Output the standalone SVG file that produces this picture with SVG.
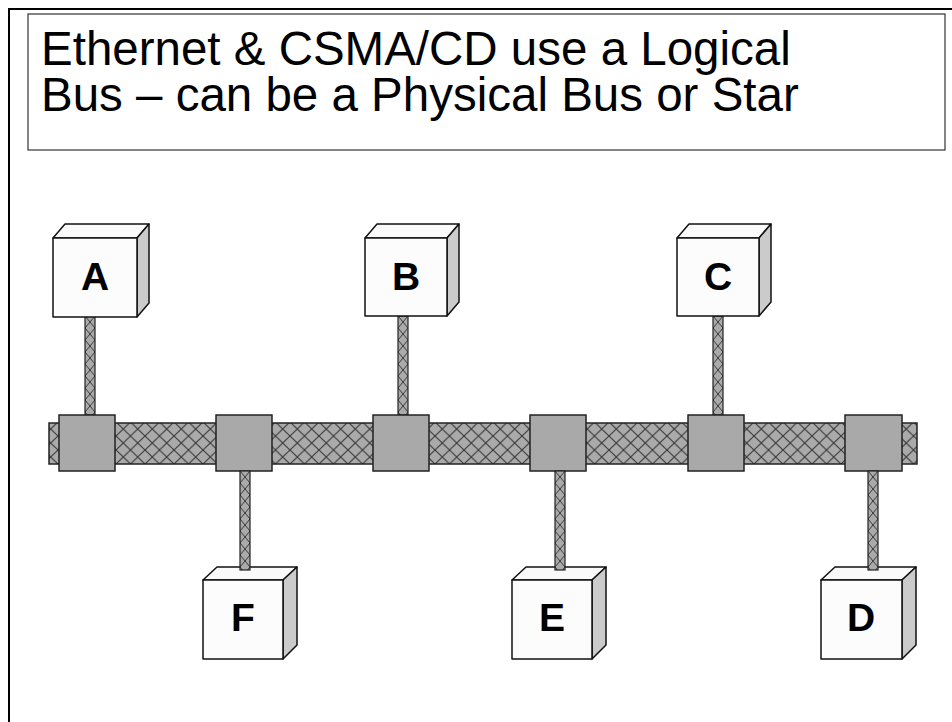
<svg xmlns="http://www.w3.org/2000/svg" width="952" height="722" viewBox="0 0 952 722">
  <style>
    .title { font-family: "Liberation Sans", Arial, sans-serif; font-size: 47.5px; fill: #000; }
    .label { font-family: "Liberation Sans", Arial, sans-serif; font-size: 39px; font-weight: bold; fill: #000; text-anchor: middle; }
    .front { fill: #fcfcfc; stroke: #111; stroke-width: 1.5; stroke-linejoin: round; }
    .top { fill: #fafafa; stroke: #111; stroke-width: 1.5; stroke-linejoin: round; }
    .side { fill: #cbcbcb; stroke: #111; stroke-width: 1.5; stroke-linejoin: round; }
    .tap { fill: #a9a9a9; stroke: #222; stroke-width: 1.5; }
    .bus { fill: url(#mesh); stroke: #222; stroke-width: 1.5; }
    .drop { fill: url(#meshThin); stroke: #222; stroke-width: 1.2; }
  </style>
  <defs>
    <!-- woven cable sheath for the backbone -->
    <pattern id="mesh" patternUnits="userSpaceOnUse" width="14.5" height="14" x="0" y="2">
      <rect width="14.5" height="14" fill="#aaaaaa"/>
      <path d="M0,0 L14.5,14 M14.5,0 L0,14" stroke="#3a3a3a" stroke-width="1.1" fill="none"/>
    </pattern>
    <!-- narrower weave for the drop cables -->
    <pattern id="meshThin" patternUnits="userSpaceOnUse" width="10" height="12">
      <rect width="10" height="12" fill="#aaaaaa"/>
      <path d="M0,0 L10,12 M10,0 L0,12" stroke="#3a3a3a" stroke-width="1" fill="none"/>
    </pattern>
  </defs>

  <rect width="952" height="722" fill="#fff"/>

  <!-- slide frame -->
  <rect x="9" y="9" width="980" height="760" fill="none" stroke="#000" stroke-width="2"/>

  <!-- title -->
  <g id="title">
    <rect x="28" y="14" width="917" height="136" fill="#fff" stroke="#333" stroke-width="1.2"/>
    <text class="title" x="41" y="65">Ethernet &amp; CSMA/CD use a Logical</text>
    <text class="title" x="41" y="111">Bus – can be a Physical Bus or Star</text>
  </g>

  <!-- bus and drop cables -->
  <g id="connectors">
    <rect class="bus" x="49" y="423" width="868" height="41"/>
    <g transform="translate(85,316)"><rect class="drop" x="0" y="0" width="10" height="99"/></g>
    <g transform="translate(398,316)"><rect class="drop" x="0" y="0" width="10" height="99"/></g>
    <g transform="translate(713,316)"><rect class="drop" x="0" y="0" width="10" height="99"/></g>
    <rect class="tap" x="59" y="415" width="56" height="56"/>
    <rect class="tap" x="216" y="415" width="56" height="56"/>
    <rect class="tap" x="373" y="415" width="56" height="56"/>
    <rect class="tap" x="530" y="415" width="56" height="56"/>
    <rect class="tap" x="688" y="415" width="56" height="56"/>
    <rect class="tap" x="845" y="415" width="57" height="56"/>
  </g>

  <!-- stations above the bus -->
  <g id="node-A" transform="translate(53,238)">
    <polygon class="top" points="0,0 12,-14 96,-14 84,0"/>
    <polygon class="side" points="84,0 96,-14 96,65 84,79"/>
    <rect class="front" x="0" y="0" width="84" height="79"/>
    <text class="label" x="42" y="52">A</text>
  </g>
  <g id="node-B" transform="translate(365,238)">
    <polygon class="top" points="0,0 12,-14 94,-14 82,0"/>
    <polygon class="side" points="82,0 94,-14 94,64 82,78"/>
    <rect class="front" x="0" y="0" width="82" height="78"/>
    <text class="label" x="41" y="52">B</text>
  </g>
  <g id="node-C" transform="translate(677,238)">
    <polygon class="top" points="0,0 12,-14 94,-14 82,0"/>
    <polygon class="side" points="82,0 94,-14 94,64 82,78"/>
    <rect class="front" x="0" y="0" width="82" height="78"/>
    <text class="label" x="41" y="52">C</text>
  </g>

  <!-- stations below the bus -->
  <g id="node-F" transform="translate(203,580)">
    <polygon class="top" points="0,0 14,-13 94,-13 80,0"/>
    <polygon class="side" points="80,0 94,-13 94,65 80,79"/>
    <rect class="front" x="0" y="0" width="80" height="79"/>
    <text class="label" x="40" y="51">F</text>
  </g>
  <g id="node-E" transform="translate(512,580)">
    <polygon class="top" points="0,0 14,-13 94,-13 80,0"/>
    <polygon class="side" points="80,0 94,-13 94,65 80,79"/>
    <rect class="front" x="0" y="0" width="80" height="79"/>
    <text class="label" x="40" y="51">E</text>
  </g>
  <g id="node-D" transform="translate(821,580)">
    <polygon class="top" points="0,0 14,-13 95,-13 81,0"/>
    <polygon class="side" points="81,0 95,-13 95,65 81,79"/>
    <rect class="front" x="0" y="0" width="81" height="79"/>
    <text class="label" x="40" y="51">D</text>
  </g>

  <!-- drop cables to the lower stations, drawn over the cube tops -->
  <g id="drops-lower">
    <g transform="translate(240,471)"><rect class="drop" x="0" y="0" width="10" height="99"/></g>
    <g transform="translate(555,471)"><rect class="drop" x="0" y="0" width="10" height="99"/></g>
    <g transform="translate(868,471)"><rect class="drop" x="0" y="0" width="10" height="99"/></g>
  </g>
</svg>
